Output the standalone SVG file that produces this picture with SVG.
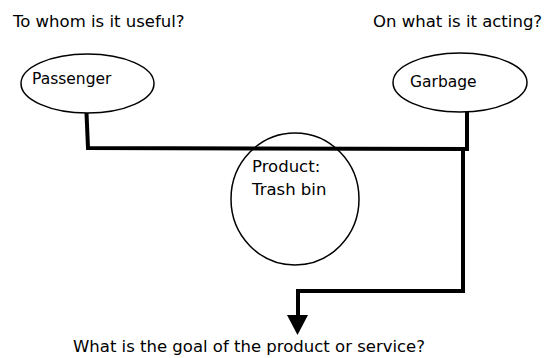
<svg xmlns="http://www.w3.org/2000/svg" width="549" height="358" viewBox="0 0 549 358">
  <style>
    .lbl { font-family: "DejaVu Sans", "Liberation Sans", sans-serif; fill: #000; }
    .q { font-size: 16.5px; }
    .n { font-size: 15.5px; }
    .p { font-size: 16.5px; }
    .shape { fill: #fff; stroke: #000; stroke-width: 1.5; }
    .wire { fill: none; stroke: #000; stroke-width: 4; stroke-linejoin: miter; }
  </style>
  <rect width="549" height="358" fill="#fff"/>

  <!-- questions -->
  <text class="lbl q" x="13" y="27">To whom is it useful?</text>
  <text class="lbl q" x="373" y="27">On what is it acting?</text>
  <text class="lbl q" x="73" y="352">What is the goal of the product or service?</text>

  <!-- product in the middle (drawn under the wires) -->
  <g id="product">
    <ellipse class="shape" cx="295" cy="199" rx="64" ry="66"/>
    <text class="lbl p" x="252" y="172">Product:</text>
    <text class="lbl p" x="252" y="195">Trash bin</text>
  </g>

  <g id="passenger">
    <ellipse class="shape" cx="87.5" cy="83.5" rx="66.5" ry="29.5"/>
    <text class="lbl n" x="32" y="84">Passenger</text>
  </g>

  <g id="garbage">
    <ellipse class="shape" cx="460" cy="82.5" rx="67" ry="29.5"/>
    <text class="lbl n" x="410" y="87">Garbage</text>
  </g>

  <g id="connectors">
    <polyline class="wire" points="86.5,113 88,148 467,149"/>
    <polyline class="wire" points="467,112 467,151"/>
    <polyline class="wire" points="463,149 463,291 298,291 298,317"/>
    <polygon points="287,315 308,315 297.5,335" fill="#000"/>
  </g>
</svg>
